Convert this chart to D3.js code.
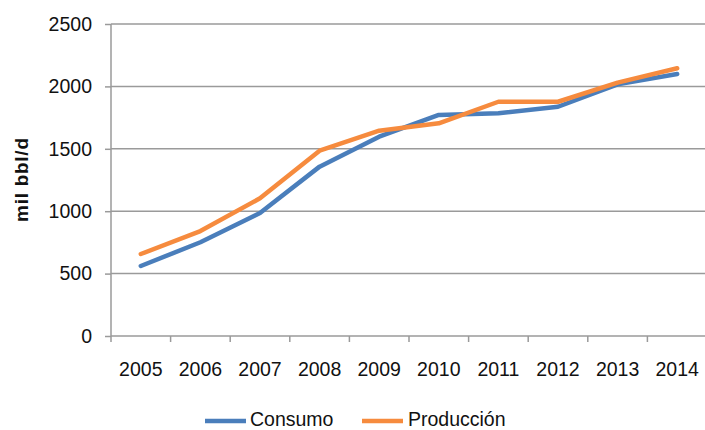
<!DOCTYPE html>
<html>
<head>
<meta charset="utf-8">
<script src="https://cdn.jsdelivr.net/npm/d3@7"></script>
<style>
  html, body { margin: 0; padding: 0; background: #fff; }
  svg { display: block; font-family: "Liberation Sans", Arial, sans-serif; }
</style>
</head>
<body>
<svg id="chart" width="705" height="430"></svg>
<script>
const years = ["2005","2006","2007","2008","2009","2010","2011","2012","2013","2014"];
const consumo = [561, 751, 985, 1357, 1597, 1771, 1784, 1837, 2016, 2099];
const produccion = [657, 841, 1103, 1485, 1645, 1704, 1877, 1877, 2030, 2145];
const yTicks = [0, 500, 1000, 1500, 2000, 2500];
const seriesNames = ["Consumo", "Producción"];
const seriesColors = ["#4a7ebb", "#f68b3e"];
const yTitle = "mil bbl/d";

(function () {
const svg = d3.select("#chart");
const pL = 111, pR = 707, pT = 24, pB = 336;

const x = d3.scaleBand().domain(years).range([pL, pR]).padding(0);
const y = d3.scaleLinear().domain([0, 2500]).range([pB, pT]);

// gridlines
svg.append("g").selectAll("line").data(yTicks.filter(d => d > 0)).join("line")
  .attr("x1", pL).attr("x2", 705)
  .attr("y1", d => y(d)).attr("y2", d => y(d))
  .attr("stroke", "#9a9a9a").attr("stroke-width", 1.5);

// y axis
const yAxis = d3.axisLeft(y).tickValues(yTicks).tickSize(6).tickPadding(13).tickFormat(d3.format("d"));
const gy = svg.append("g").attr("transform", `translate(${pL},0)`).call(yAxis);
gy.select(".domain").attr("stroke", "#9a9a9a").attr("stroke-width", 1.5).attr("d", `M0,${pB}V${pT}`);
gy.selectAll(".tick line").attr("stroke", "#9a9a9a").attr("stroke-width", 1.5);
gy.selectAll(".tick text").attr("font-size", 19.5).attr("fill", "#111").attr("font-family", "Liberation Sans, Arial, sans-serif");

// x axis
const gx = svg.append("g").attr("transform", `translate(0,${pB})`);
gx.append("line").attr("x1", pL).attr("x2", 705).attr("y1", 0).attr("y2", 0)
  .attr("stroke", "#9a9a9a").attr("stroke-width", 1.5);
const bounds = years.map(d => x(d)).concat([pR]);
gx.selectAll("line.tk").data(bounds).join("line").attr("class", "tk")
  .attr("x1", d => d).attr("x2", d => d).attr("y1", 0).attr("y2", 6)
  .attr("stroke", "#9a9a9a").attr("stroke-width", 1.5);
gx.selectAll("text").data(years).join("text")
  .attr("x", d => x(d) + x.bandwidth() / 2)
  .attr("y", 40)
  .attr("text-anchor", "middle")
  .attr("font-size", 19.5).attr("fill", "#111")
  .text(d => d);

// y title
svg.append("text")
  .attr("transform", "translate(28,180) rotate(-90)")
  .attr("text-anchor", "middle")
  .attr("font-size", 19).attr("font-weight", "bold").attr("fill", "#111")
  .attr("textLength", 84).attr("lengthAdjust", "spacing")
  .text(yTitle);

// lines
const line = d3.line()
  .x((d, i) => x(years[i]) + x.bandwidth() / 2)
  .y(d => y(d));
[consumo, produccion].forEach((s, i) => {
  svg.append("path").datum(s)
    .attr("d", line)
    .attr("fill", "none")
    .attr("stroke", seriesColors[i])
    .attr("stroke-width", 4.5)
    .attr("stroke-linejoin", "round")
    .attr("stroke-linecap", "round");
});

// legend
const legendItems = [{x: 205, tx: 250}, {x: 362, tx: 408}];
legendItems.forEach((it, i) => {
  svg.append("line")
    .attr("x1", it.x).attr("x2", it.x + 41)
    .attr("y1", 421).attr("y2", 421)
    .attr("stroke", seriesColors[i]).attr("stroke-width", 4.5);
  svg.append("text")
    .attr("x", it.tx).attr("y", 426)
    .attr("font-size", 19.5).attr("fill", "#111")
    .text(seriesNames[i]);
});
})();
</script>
</body>
</html>
